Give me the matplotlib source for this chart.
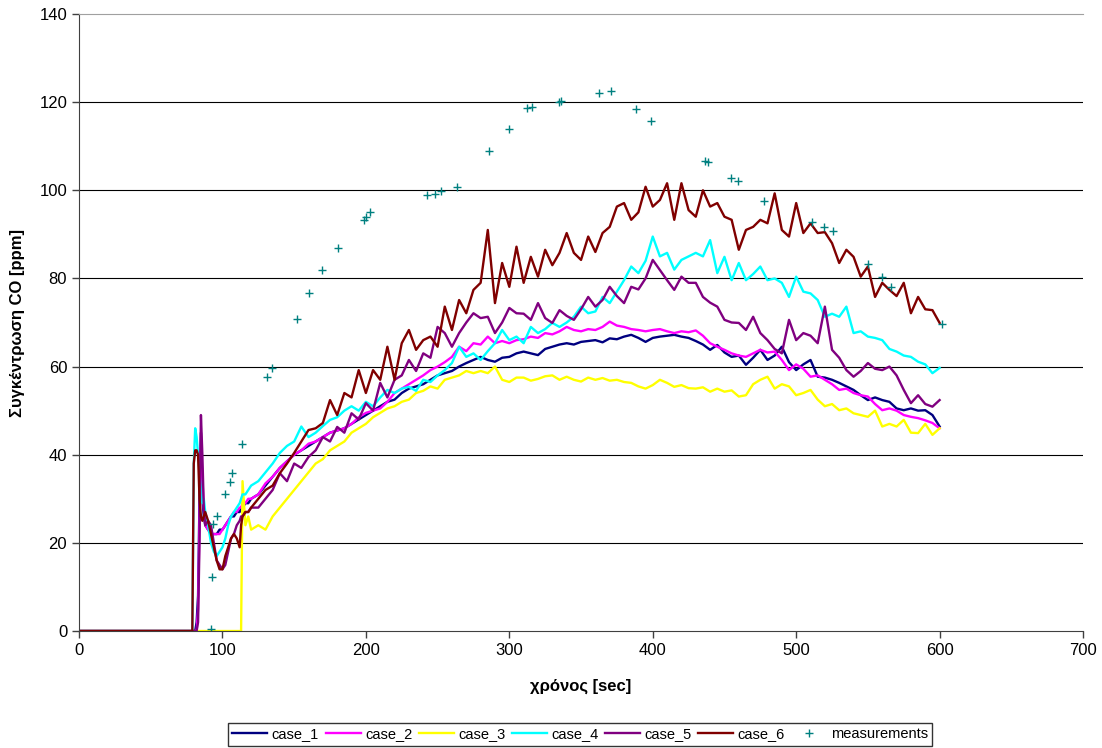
import matplotlib
matplotlib.use("Agg")
import matplotlib.pyplot as plt

plt.rcParams["font.family"] = ["Liberation Sans", "DejaVu Sans"]

# time axis [sec]: fine steps around the start-up spike, then every 5 s
t_start = [0, 79, 80, 81, 82, 83, 84, 85, 86, 87, 88, 90, 92, 94, 96, 98,
           100, 102, 104, 106, 108, 110, 112, 113, 114, 116, 118, 120]
t_main = list(range(125, 601, 5))
time = t_start + t_main

case_1 = [0, 0, 0, 0, 2, 8, 30, 45, 30, 26, 24, 23, 22, 22, 22, 23, 23, 24, 25, 26, 26, 27, 27, 28, 28, 29, 29, 30,
          31, 33, 35, 37, 38.5, 40, 41, 42, 43, 44,
          45, 45.5, 46, 47, 48, 49, 50, 51, 52, 52.5,
          54, 55, 55.5, 56, 57, 58, 58.5, 59, 60, 60.8,
          61.5, 62.2, 61.5, 61.1, 62, 62.2, 63, 63.4, 63, 62.6,
          64, 64.5, 65, 65.3, 65, 65.6, 65.8, 66, 65.5, 66.4,
          66.2, 66.8, 67.2, 66.5, 65.6, 66.5, 66.8, 67, 67.2, 66.8,
          66.5, 65.8, 65, 63.8, 64.9, 63.2, 62.2, 62.5, 60.4, 62,
          63.8, 61.5, 62.5, 64.5, 61, 59.2, 60.5, 61.5, 57.7, 57.5,
          57, 56.3, 55.5, 54.7, 53.5, 52.4, 53, 52.4, 52, 50.5,
          50.1, 50.5, 50, 50.1, 49, 46.4]

case_2 = [0, 0, 0, 0, 0, 5, 25, 42, 35, 28, 24, 23, 22, 22, 22, 22, 23, 24, 25, 26, 27, 27, 28, 28, 29, 29, 30, 30,
          31, 33.5, 35, 37, 38.5, 40, 41, 42.5, 43, 44,
          45, 45.5, 46, 47, 48.5, 49.5, 50, 50.5, 52, 54,
          55, 56, 57, 58, 59.2, 60, 61, 62.2, 64.5, 63.5,
          65.3, 65, 66.8, 65.3, 65.8, 65.3, 66, 66.2, 66.8, 66.5,
          67.6, 67.3, 68, 69, 68.3, 68, 68.5, 68.3, 69, 70.2,
          69.3, 69, 68.5, 68.3, 68, 68.3, 68.5, 68, 67.6, 68,
          67.8, 68.2, 67, 65.3, 64.5, 63.8, 63, 62.5, 62.2, 63,
          63.8, 63.2, 63.4, 61.5, 59.2, 60.5, 59.5, 57.7, 58, 57,
          56, 54.7, 55, 54, 53.5, 53.2, 51.5, 50.1, 50.5, 50,
          49, 48.6, 48.3, 47.8, 47.2, 46]

case_3 = [0, 0, 0, 0, 0, 0, 0, 0, 0, 0, 0, 0, 0, 0, 0, 0, 0, 0, 0, 0, 0, 0, 0, 0, 34, 24, 26, 23,
          24, 23, 26, 28, 30, 32, 34, 36, 38, 39,
          41, 42, 43, 45, 46, 47, 48.5, 49.5, 50.5, 51,
          52, 52.5, 54, 54.5, 55.5, 55, 57, 57.5, 58, 59,
          58.5, 59, 58.5, 60, 57, 56.5, 57.5, 57.5, 56.8, 57.2,
          57.8, 58, 57, 57.7, 57, 56.6, 57.5, 57, 57.4, 56.8,
          57, 56.5, 56.3, 55.5, 55, 55.8, 57, 56.3, 55.4, 55.8,
          55.1, 55, 55.3, 54.3, 55, 54.3, 54.6, 53.2, 53.5, 56,
          57, 57.7, 55, 56, 55.5, 53.5, 54, 54.7, 52.5, 51,
          51.5, 50.1, 50.5, 49.4, 49, 48.6, 50, 46.4, 47, 46.4,
          47.9, 45, 44.9, 47, 44.5, 46]

case_4 = [0, 0, 38, 46, 44, 40, 36, 32, 29, 30, 27, 24, 20, 18, 17, 18, 19, 21, 24, 26, 27, 28, 29, 30, 31, 31, 32, 33,
          34, 36, 38, 40.4, 42, 43, 46.4, 44, 45, 46.5,
          47.9, 48.5, 50, 51, 50, 52, 51, 53, 54.7, 54,
          55, 55.4, 54.5, 57, 56.5, 58, 59.2, 60.8, 64.5, 62.2,
          63, 61.5, 63.5, 65.3, 68.3, 66, 66.8, 65.3, 69, 67.6,
          68.5, 69.9, 69, 70, 71.3, 73.6, 72.1, 72.5, 75.8, 74.4,
          77, 79.6, 82.7, 81.2, 84, 89.5, 85, 85.8, 82, 84.2,
          85, 85.8, 85, 88.7, 81.2, 84.9, 79.6, 83.5, 79.6, 81,
          82.7, 79.6, 80, 79, 75.8, 80.4, 77, 76.6, 75.1, 71.3,
          72, 71.3, 73.6, 67.6, 68, 66.8, 66.5, 66, 64, 63.4,
          62.5, 62.2, 61.1, 60.5, 58.5, 59.7]

case_5 = [0, 0, 0, 0, 0, 2, 20, 49, 40, 28, 24, 25, 24, 20, 16, 15, 14, 15, 18, 21, 22, 24, 25, 26, 26, 27, 27, 28,
          28, 30, 32, 35.8, 34, 38, 37, 39.5, 41, 44,
          43, 46.3, 45, 49.4, 48, 51.7, 50, 56.3, 53, 57,
          58, 61.5, 59, 63, 62, 69, 67.6, 64.5, 67.6, 70,
          72.1, 71, 71.3, 67.6, 70, 73.3, 72.1, 72, 70.6, 74.4,
          71, 69.9, 72.8, 71.5, 70.6, 73, 75.8, 73.6, 75.1, 78.1,
          76, 74.4, 78.1, 77.5, 80, 84.2, 81.9, 79.6, 77.4, 80.4,
          79, 79, 75.8, 74.5, 73.6, 70.6, 70, 69.9, 68.3, 71.3,
          67.6, 66, 64, 63, 70.6, 66, 67.6, 67, 65.3, 73.6,
          63.8, 62, 59.2, 57.7, 59, 60.8, 59.5, 59.2, 60, 58,
          54.7, 51.7, 53.5, 51.5, 50.9, 52.4]

case_6 = [0, 0, 38, 41, 41, 40, 30, 26, 25, 26, 27, 25, 22, 19, 16, 14, 14, 17, 19, 21, 22, 21, 19, 24, 26, 27, 27, 28,
          30, 32, 33, 35.8, 38, 40.4, 43, 45.6, 46, 47.2,
          52.4, 49, 54, 53, 59.2, 54, 59.2, 57, 64.5, 57,
          65.3, 68.3, 63.8, 66, 66.8, 64.5, 73.6, 68.3, 75.1, 72.1,
          77.4, 79, 91, 74.4, 83.5, 78.1, 87.2, 79, 84.9, 80.4,
          86.5, 83, 85.8, 90.3, 85.8, 84.2, 89.5, 86, 90.3, 91.7,
          96.3, 97.1, 93.3, 95, 100.8, 96.3, 97.8, 101.6, 93.3, 101.6,
          95.5, 94, 100, 96.3, 97.1, 94, 93.3, 86.5, 91, 91.7,
          93.3, 92.5, 99.3, 91, 89.5, 97.1, 90.3, 92.5, 90.3, 90.5,
          88, 83.5, 86.5, 84.9, 80.4, 82.7, 75.8, 79, 77.4, 76,
          79, 72.1, 75.8, 73, 72.8, 69.9]

meas_t = [92, 92.5, 93.5, 96.4, 101.5, 105, 106.8, 113.6, 131, 134.5, 151.7, 160.5,
          169.3, 180.5, 198.6, 199.8, 203, 242.7, 248.3, 252.7, 263.2, 285.7, 299.7,
          312.6, 316.1, 334.7, 336.1, 362.4, 370.9, 388.4, 398.6, 436.2, 438.5, 454.4,
          459.7, 477.6, 511, 519.4, 525.4, 550, 559.6, 566.3, 601.6]
meas_co = [0.4, 12.3, 24.3, 26.2, 31.2, 33.8, 35.9, 42.4, 57.7, 59.7, 70.7, 76.6,
           82.0, 86.8, 93.3, 94.0, 95.0, 99.0, 99.2, 99.9, 100.8, 109.0, 113.8,
           118.6, 118.9, 120.0, 120.2, 122.0, 122.5, 118.5, 115.8, 106.7, 106.5, 102.7,
           102.0, 97.6, 92.8, 91.7, 90.8, 83.2, 80.3, 78.1, 69.6]

series = [case_1, case_2, case_3, case_4, case_5, case_6]
labels = ["case_1", "case_2", "case_3", "case_4", "case_5", "case_6"]
colors = ["#000080", "#FF00FF", "#FFFF00", "#00FFFF", "#800080", "#800000"]

x_ticks = [0, 100, 200, 300, 400, 500, 600, 700]
y_ticks = [0, 20, 40, 60, 80, 100, 120, 140]

fig = plt.figure(figsize=(11.02, 7.48), dpi=100)
ax = fig.add_axes([0.0717, 0.1564, 0.9111, 0.8249])

# horizontal gridlines (Excel style, black)
for v in y_ticks[1:-1]:
    ax.axhline(v, color="black", lw=0.8, zorder=0)

for vals, lab, col in zip(series, labels, colors):
    ax.plot(time, vals, color=col, lw=1.7, label=lab)

ax.plot(meas_t, meas_co, linestyle="none", marker="+", markersize=5.5,
        markeredgewidth=1.0, color="#008080", label="measurements")

ax.set_xlim(0, 700)
ax.set_ylim(0, 140)
ax.set_xticks(x_ticks)
ax.set_yticks(y_ticks)
ax.tick_params(direction="out", length=5, width=1, colors="#404040",
               labelcolor="black", labelsize=12)

ax.spines["right"].set_visible(False)
ax.spines["top"].set_color("#a0a0a0")
ax.spines["left"].set_color("#404040")
ax.spines["bottom"].set_color("#404040")

ax.set_xlabel("χρόνος [sec]", fontsize=12, fontweight="bold", labelpad=15)
ax.set_ylabel("Συγκέντρωση CO [ppm]", fontsize=12, fontweight="bold", labelpad=10)

leg = fig.legend(loc="upper center", bbox_to_anchor=(0.5265, 0.0334), ncol=7,
                 fontsize=10.5, frameon=True, fancybox=False, edgecolor="black",
                 handlelength=2.4, handletextpad=0.3, columnspacing=0.45,
                 borderpad=0.3, borderaxespad=0)
leg.get_frame().set_linewidth(1.0)

fig.savefig("out.png", dpi=100)
